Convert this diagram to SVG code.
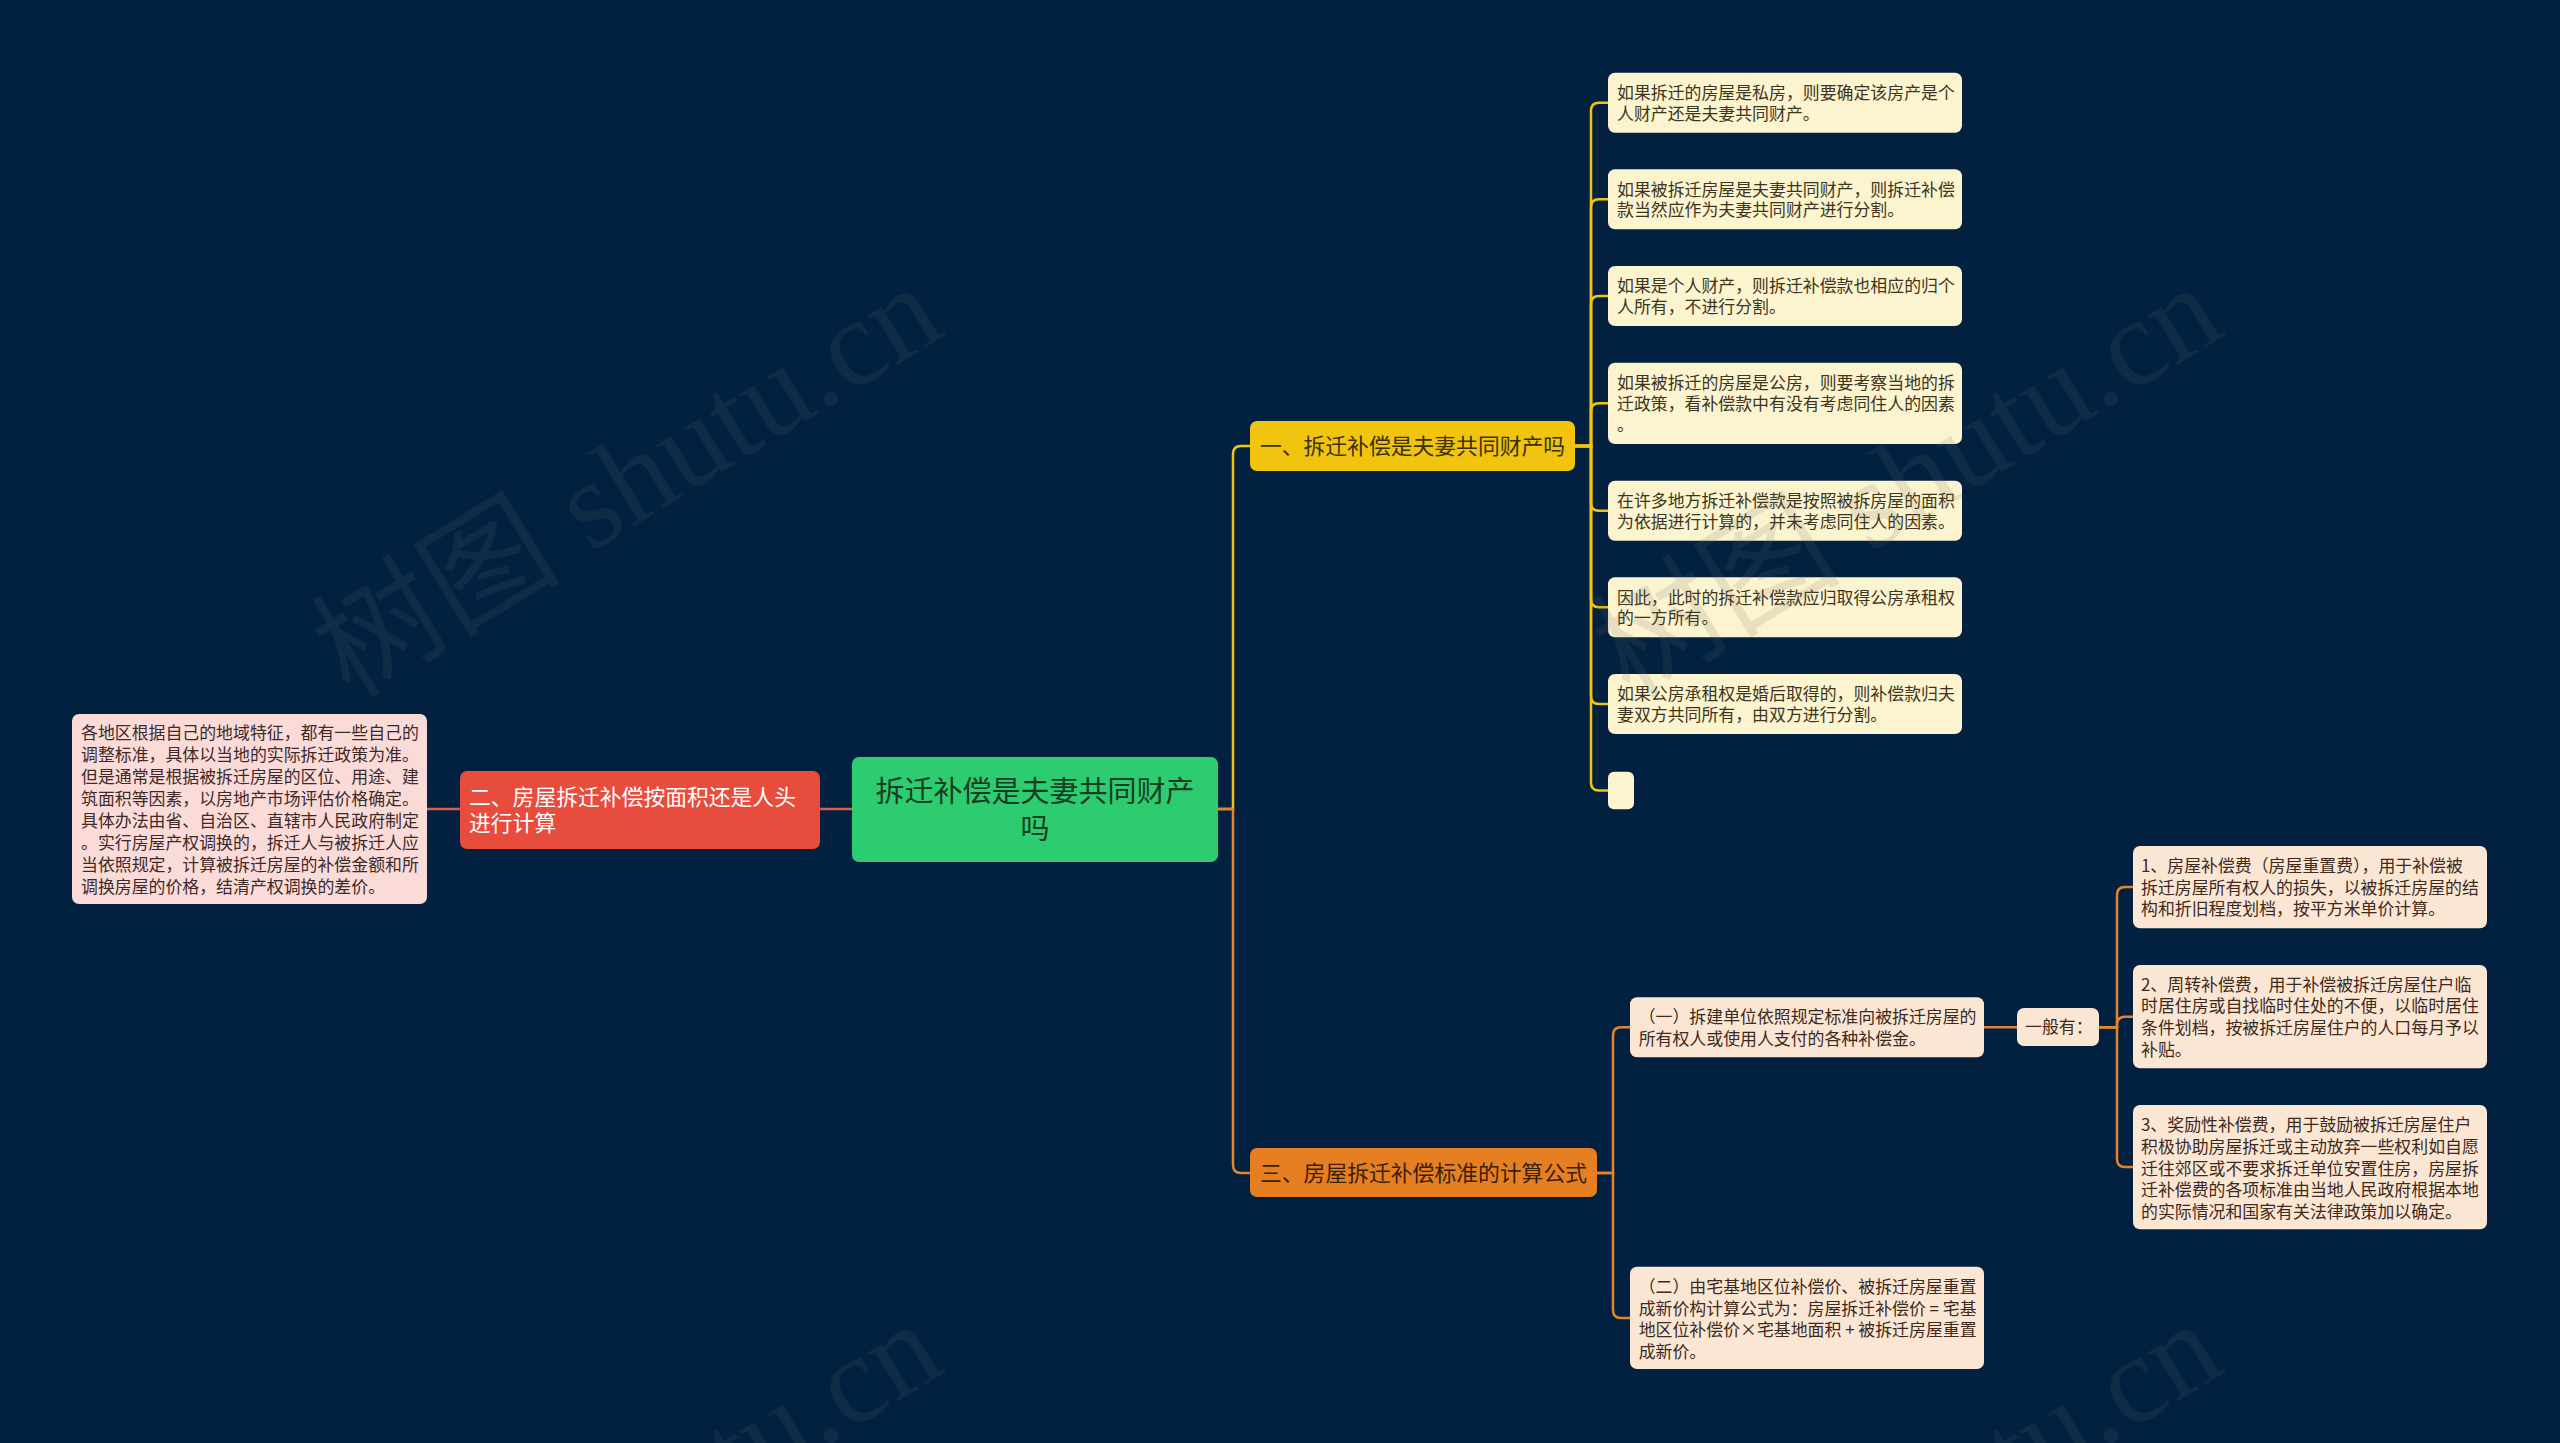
<svg xmlns="http://www.w3.org/2000/svg" width="2560" height="1443" viewBox="0 0 2560 1443">
<style>
  text { font-family: "Noto Sans CJK SC", "Noto Sans", sans-serif; }
  .ln { fill: none; stroke-width: 2.5; stroke-linecap: round; }
  .ly { stroke: #f1c40f; }
  .lo { stroke: #e6832e; }
  .lr { stroke: #e25a4c; }
  .s { font-size: 16.9px; }
  .big { font-size: 21.8px; }
  .yc { fill: #fcf3cf; }
  .yt { fill: #3d3520; }
  .oc { fill: #fbe6d4; }
  .ot { fill: #3d2a1c; }
  .wm { font-family: "Liberation Serif", "Noto Sans CJK SC", serif; font-size: 125px; fill: #6b6b6b; fill-opacity: 0.14; }
</style>
<rect x="0" y="0" width="2560" height="1443" fill="#022140"/>

<g id="connectors">
  <path class="ln lr" d="M851 809 H820"/>
  <path class="ln lr" d="M460 809 H427"/>
  <path class="ln ly" d="M1218 809 H1233 V454 Q1233 446 1241 446 H1250"/>
  <path class="ln lo" d="M1218 809 H1233 V1165 Q1233 1173 1241 1173 H1250"/>
  <path class="ln ly" d="M1575 446 H1591 V110.7 Q1591 102.7 1599 102.7 H1608"/>
  <path class="ln ly" d="M1575 446 H1591 V207.3 Q1591 199.3 1599 199.3 H1608"/>
  <path class="ln ly" d="M1575 446 H1591 V304 Q1591 296 1599 296 H1608"/>
  <path class="ln ly" d="M1575 446 H1591 V411.3 Q1591 403.3 1599 403.3 H1608"/>
  <path class="ln ly" d="M1575 446 H1591 V502.7 Q1591 510.7 1599 510.7 H1608"/>
  <path class="ln ly" d="M1575 446 H1591 V599.3 Q1591 607.3 1599 607.3 H1608"/>
  <path class="ln ly" d="M1575 446 H1591 V696 Q1591 704 1599 704 H1608"/>
  <path class="ln ly" d="M1575 446 H1591 V782.5 Q1591 790.5 1599 790.5 H1608"/>
  <path class="ln lo" d="M1597 1173 H1613 V1035.3 Q1613 1027.3 1621 1027.3 H1630"/>
  <path class="ln lo" d="M1597 1173 H1613 V1310 Q1613 1318 1621 1318 H1630"/>
  <path class="ln lo" d="M1984 1027.3 H2017"/>
  <path class="ln lo" d="M2099 1027.3 H2117 V895 Q2117 887 2125 887 H2133"/>
  <path class="ln lo" d="M2099 1027.3 H2117 V1024.7 Q2117 1016.7 2125 1016.7 H2133"/>
  <path class="ln lo" d="M2099 1027.3 H2117 V1159 Q2117 1167 2125 1167 H2133"/>
</g>

<g id="node-root">
  <rect x="852" y="757" width="366" height="105" rx="7" fill="#2ecc71"/>
  <text x="1035" y="802.4" font-size="29" fill="#173d22" text-anchor="middle">拆迁补偿是夫妻共同财产</text>
  <text x="1035" y="838.7" font-size="29" fill="#173d22" text-anchor="middle">吗</text>
</g>

<g id="node-area">
  <rect x="460" y="771" width="360" height="78" rx="7" fill="#e74c3c"/>
  <text class="big" x="469" y="805" fill="#ffffff">二、房屋拆迁补偿按面积还是人头</text>
  <text class="big" x="469" y="831" fill="#ffffff">进行计算</text>
</g>

<g id="node-area-detail">
  <rect x="72" y="714" width="355" height="190" rx="7" fill="#fadbd8"/>
  <g class="s" fill="#3f2a2a">
    <text x="81" y="739.3">各地区根据自己的地域特征，都有一些自己的</text>
    <text x="81" y="761.2">调整标准，具体以当地的实际拆迁政策为准。</text>
    <text x="81" y="783.1">但是通常是根据被拆迁房屋的区位、用途、建</text>
    <text x="81" y="805">筑面积等因素，以房地产市场评估价格确定。</text>
    <text x="81" y="826.9">具体办法由省、自治区、直辖市人民政府制定</text>
    <text x="81" y="848.8">。实行房屋产权调换的，拆迁人与被拆迁人应</text>
    <text x="81" y="870.7">当依照规定，计算被拆迁房屋的补偿金额和所</text>
    <text x="81" y="892.6">调换房屋的价格，结清产权调换的差价。</text>
  </g>
</g>

<g id="node-property">
  <rect x="1250" y="421" width="325" height="50" rx="7" fill="#f1c40f"/>
  <text class="big" x="1412.5" y="454" fill="#3b3000" text-anchor="middle">一、拆迁补偿是夫妻共同财产吗</text>
</g>

<g id="node-y1">
  <rect class="yc" x="1608" y="72.7" width="354" height="60" rx="7"/>
  <text class="s yt" x="1617" y="98.9">如果拆迁的房屋是私房，则要确定该房产是个</text>
  <text class="s yt" x="1617" y="119.7">人财产还是夫妻共同财产。</text>
</g>
<g id="node-y2">
  <rect class="yc" x="1608" y="169.3" width="354" height="60" rx="7"/>
  <text class="s yt" x="1617" y="195.5">如果被拆迁房屋是夫妻共同财产，则拆迁补偿</text>
  <text class="s yt" x="1617" y="216.3">款当然应作为夫妻共同财产进行分割。</text>
</g>
<g id="node-y3">
  <rect class="yc" x="1608" y="266" width="354" height="60" rx="7"/>
  <text class="s yt" x="1617" y="292.2">如果是个人财产，则拆迁补偿款也相应的归个</text>
  <text class="s yt" x="1617" y="313">人所有，不进行分割。</text>
</g>
<g id="node-y4">
  <rect class="yc" x="1608" y="362.7" width="354" height="81.3" rx="7"/>
  <text class="s yt" x="1617" y="388.9">如果被拆迁的房屋是公房，则要考察当地的拆</text>
  <text class="s yt" x="1617" y="409.7">迁政策，看补偿款中有没有考虑同住人的因素</text>
  <text class="s yt" x="1617" y="430.5">。</text>
</g>
<g id="node-y5">
  <rect class="yc" x="1608" y="480.7" width="354" height="60" rx="7"/>
  <text class="s yt" x="1617" y="506.9">在许多地方拆迁补偿款是按照被拆房屋的面积</text>
  <text class="s yt" x="1617" y="527.7">为依据进行计算的，并未考虑同住人的因素。</text>
</g>
<g id="node-y6">
  <rect class="yc" x="1608" y="577.3" width="354" height="60" rx="7"/>
  <text class="s yt" x="1617" y="603.5">因此，此时的拆迁补偿款应归取得公房承租权</text>
  <text class="s yt" x="1617" y="624.3">的一方所有。</text>
</g>
<g id="node-y7">
  <rect class="yc" x="1608" y="674" width="354" height="60" rx="7"/>
  <text class="s yt" x="1617" y="700.2">如果公房承租权是婚后取得的，则补偿款归夫</text>
  <text class="s yt" x="1617" y="721">妻双方共同所有，由双方进行分割。</text>
</g>
<g id="node-y8">
  <rect class="yc" x="1608" y="771.7" width="26" height="37.6" rx="6"/>
</g>

<g id="node-formula">
  <rect x="1250" y="1148" width="347" height="49" rx="7" fill="#e67e22"/>
  <text class="big" x="1423.5" y="1181" fill="#3a1f05" text-anchor="middle">三、房屋拆迁补偿标准的计算公式</text>
</g>

<g id="node-o1">
  <rect class="oc" x="1630" y="997.3" width="354" height="60" rx="7"/>
  <text class="s ot" x="1638.7" y="1023.3">（一）拆建单位依照规定标准向被拆迁房屋的</text>
  <text class="s ot" x="1638.7" y="1044.5">所有权人或使用人支付的各种补偿金。</text>
</g>
<g id="node-general">
  <rect class="oc" x="2017" y="1008" width="82" height="38" rx="7"/>
  <text class="s ot" x="2025" y="1033.3">一般有：</text>
</g>
<g id="node-c1">
  <rect class="oc" x="2133" y="846" width="354" height="82.3" rx="7"/>
  <text class="s ot" x="2141" y="872.3">1、房屋补偿费（房屋重置费），用于补偿被</text>
  <text class="s ot" x="2141" y="893.8">拆迁房屋所有权人的损失，以被拆迁房屋的结</text>
  <text class="s ot" x="2141" y="915.3">构和折旧程度划档，按平方米单价计算。</text>
</g>
<g id="node-c2">
  <rect class="oc" x="2133" y="965" width="354" height="103.3" rx="7"/>
  <text class="s ot" x="2141" y="990.5">2、周转补偿费，用于补偿被拆迁房屋住户临</text>
  <text class="s ot" x="2141" y="1012.2">时居住房或自找临时住处的不便，以临时居住</text>
  <text class="s ot" x="2141" y="1033.9">条件划档，按被拆迁房屋住户的人口每月予以</text>
  <text class="s ot" x="2141" y="1055.6">补贴。</text>
</g>
<g id="node-c3">
  <rect class="oc" x="2133" y="1105" width="354" height="124.3" rx="7"/>
  <text class="s ot" x="2141" y="1131.3">3、奖励性补偿费，用于鼓励被拆迁房屋住户</text>
  <text class="s ot" x="2141" y="1153">积极协助房屋拆迁或主动放弃一些权利如自愿</text>
  <text class="s ot" x="2141" y="1174.7">迁往郊区或不要求拆迁单位安置住房，房屋拆</text>
  <text class="s ot" x="2141" y="1196.4">迁补偿费的各项标准由当地人民政府根据本地</text>
  <text class="s ot" x="2141" y="1218.1">的实际情况和国家有关法律政策加以确定。</text>
</g>
<g id="node-o2">
  <rect class="oc" x="1630" y="1266.7" width="354" height="102.3" rx="7"/>
  <text class="s ot" x="1638.7" y="1293">（二）由宅基地区位补偿价、被拆迁房屋重置</text>
  <text class="s ot" x="1638.7" y="1314.5">成新价构计算公式为：房屋拆迁补偿价 = 宅基</text>
  <text class="s ot" x="1638.7" y="1336">地区位补偿价×宅基地面积 + 被拆迁房屋重置</text>
  <text class="s ot" x="1638.7" y="1357.5">成新价。</text>
</g>

<g id="watermarks">
  <text class="wm" x="350" y="700" transform="rotate(-31.5 350 700)">树图 shutu.cn</text>
  <text class="wm" x="1630" y="700" transform="rotate(-31.5 1630 700)">树图 shutu.cn</text>
  <text class="wm" x="350" y="1737" transform="rotate(-31.5 350 1737)">树图 shutu.cn</text>
  <text class="wm" x="1630" y="1737" transform="rotate(-31.5 1630 1737)">树图 shutu.cn</text>
</g>
</svg>
